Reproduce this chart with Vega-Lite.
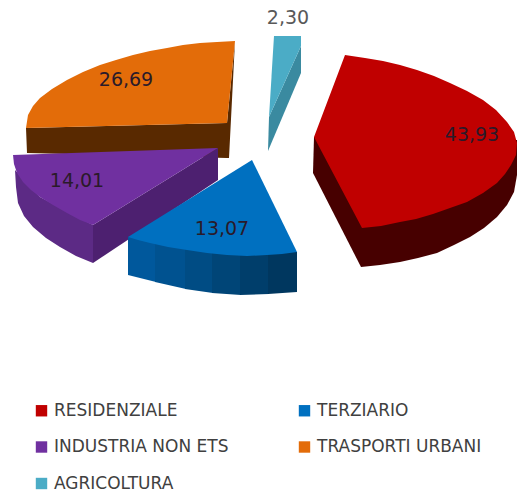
{"$schema":"https://vega.github.io/schema/vega-lite/v6.json","width":517,"height":494,"padding":0,"autosize":"none","background":"white","config":{"view":{"stroke":null}},
"layer":[
{"data":{"values":[
{"p":"T1","i":1,"x":26,"y":128},{"p":"T1","i":2,"x":27,"y":153},{"p":"T1","i":3,"x":227,"y":158},{"p":"T1","i":4,"x":229,"y":158},{"p":"T1","i":5,"x":235,"y":41},{"p":"T1","i":6,"x":227,"y":123},
{"p":"TRASPORTI URBANI","i":1,"x":235,"y":41},{"p":"TRASPORTI URBANI","i":2,"x":217,"y":42},{"p":"TRASPORTI URBANI","i":3,"x":200,"y":43},{"p":"TRASPORTI URBANI","i":4,"x":183,"y":45},{"p":"TRASPORTI URBANI","i":5,"x":167,"y":48},{"p":"TRASPORTI URBANI","i":6,"x":150,"y":51},{"p":"TRASPORTI URBANI","i":7,"x":133,"y":55},{"p":"TRASPORTI URBANI","i":8,"x":116,"y":60},{"p":"TRASPORTI URBANI","i":9,"x":100,"y":65},{"p":"TRASPORTI URBANI","i":10,"x":83,"y":72},{"p":"TRASPORTI URBANI","i":11,"x":67,"y":80},{"p":"TRASPORTI URBANI","i":12,"x":52,"y":89},{"p":"TRASPORTI URBANI","i":13,"x":40,"y":98},{"p":"TRASPORTI URBANI","i":14,"x":33,"y":106},{"p":"TRASPORTI URBANI","i":15,"x":28,"y":115},{"p":"TRASPORTI URBANI","i":16,"x":26,"y":128},{"p":"TRASPORTI URBANI","i":17,"x":227,"y":123},
{"p":"I1","i":1,"x":15,"y":170},{"p":"I1","i":2,"x":16,"y":187},{"p":"I1","i":3,"x":18,"y":203},{"p":"I1","i":4,"x":24,"y":216},{"p":"I1","i":5,"x":33,"y":227},{"p":"I1","i":6,"x":46,"y":238},{"p":"I1","i":7,"x":60,"y":247},{"p":"I1","i":8,"x":76,"y":256},{"p":"I1","i":9,"x":93,"y":263},{"p":"I1","i":10,"x":93,"y":225},{"p":"I1","i":11,"x":40,"y":197},
{"p":"I2","i":1,"x":93,"y":225},{"p":"I2","i":2,"x":218,"y":148},{"p":"I2","i":3,"x":218,"y":180},{"p":"I2","i":4,"x":93,"y":263},
{"p":"INDUSTRIA NON ETS","i":1,"x":13,"y":155},{"p":"INDUSTRIA NON ETS","i":2,"x":218,"y":148},{"p":"INDUSTRIA NON ETS","i":3,"x":93,"y":225},{"p":"INDUSTRIA NON ETS","i":4,"x":80,"y":220},{"p":"INDUSTRIA NON ETS","i":5,"x":67,"y":213},{"p":"INDUSTRIA NON ETS","i":6,"x":53,"y":205},{"p":"INDUSTRIA NON ETS","i":7,"x":40,"y":197},{"p":"INDUSTRIA NON ETS","i":8,"x":31,"y":190},{"p":"INDUSTRIA NON ETS","i":9,"x":23,"y":182},{"p":"INDUSTRIA NON ETS","i":10,"x":17,"y":173},{"p":"INDUSTRIA NON ETS","i":11,"x":14,"y":164},
{"p":"B1","i":1,"x":128,"y":237},{"p":"B1","i":2,"x":128,"y":275},{"p":"B1","i":3,"x":156,"y":282},{"p":"B1","i":4,"x":156,"y":240},
{"p":"B2","i":1,"x":155,"y":240},{"p":"B2","i":2,"x":155,"y":282},{"p":"B2","i":3,"x":186,"y":289},{"p":"B2","i":4,"x":186,"y":245},
{"p":"B3","i":1,"x":185,"y":245},{"p":"B3","i":2,"x":185,"y":289},{"p":"B3","i":3,"x":213,"y":293},{"p":"B3","i":4,"x":213,"y":250},
{"p":"B4","i":1,"x":212,"y":250},{"p":"B4","i":2,"x":212,"y":293},{"p":"B4","i":3,"x":241,"y":295},{"p":"B4","i":4,"x":241,"y":250},
{"p":"B5","i":1,"x":240,"y":250},{"p":"B5","i":2,"x":240,"y":295},{"p":"B5","i":3,"x":269,"y":294},{"p":"B5","i":4,"x":269,"y":250},
{"p":"B6","i":1,"x":268,"y":250},{"p":"B6","i":2,"x":268,"y":294},{"p":"B6","i":3,"x":297,"y":292},{"p":"B6","i":4,"x":297,"y":252},
{"p":"TERZIARIO","i":1,"x":252,"y":160},{"p":"TERZIARIO","i":2,"x":297,"y":252},{"p":"TERZIARIO","i":3,"x":282,"y":254},{"p":"TERZIARIO","i":4,"x":267,"y":255},{"p":"TERZIARIO","i":5,"x":247,"y":256},{"p":"TERZIARIO","i":6,"x":227,"y":255},{"p":"TERZIARIO","i":7,"x":207,"y":253},{"p":"TERZIARIO","i":8,"x":187,"y":250},{"p":"TERZIARIO","i":9,"x":168,"y":247},{"p":"TERZIARIO","i":10,"x":150,"y":243},{"p":"TERZIARIO","i":11,"x":138,"y":240},{"p":"TERZIARIO","i":12,"x":128,"y":237},
{"p":"R1","i":1,"x":314,"y":137},{"p":"R1","i":2,"x":313,"y":173},{"p":"R1","i":3,"x":361,"y":267},{"p":"R1","i":4,"x":380,"y":265},{"p":"R1","i":5,"x":400,"y":262},{"p":"R1","i":6,"x":418,"y":258},{"p":"R1","i":7,"x":437,"y":253},{"p":"R1","i":8,"x":454,"y":245},{"p":"R1","i":9,"x":470,"y":237},{"p":"R1","i":10,"x":484,"y":228},{"p":"R1","i":11,"x":497,"y":217},{"p":"R1","i":12,"x":507,"y":205},{"p":"R1","i":13,"x":514,"y":192},{"p":"R1","i":14,"x":517,"y":175},{"p":"R1","i":15,"x":517,"y":140},
{"p":"RESIDENZIALE","i":1,"x":345,"y":55},{"p":"RESIDENZIALE","i":2,"x":365,"y":58},{"p":"RESIDENZIALE","i":3,"x":383,"y":61},{"p":"RESIDENZIALE","i":4,"x":400,"y":65},{"p":"RESIDENZIALE","i":5,"x":417,"y":70},{"p":"RESIDENZIALE","i":6,"x":434,"y":76},{"p":"RESIDENZIALE","i":7,"x":450,"y":83},{"p":"RESIDENZIALE","i":8,"x":467,"y":91},{"p":"RESIDENZIALE","i":9,"x":483,"y":100},{"p":"RESIDENZIALE","i":10,"x":496,"y":110},{"p":"RESIDENZIALE","i":11,"x":507,"y":122},{"p":"RESIDENZIALE","i":12,"x":514,"y":132},{"p":"RESIDENZIALE","i":13,"x":517,"y":143},{"p":"RESIDENZIALE","i":14,"x":516,"y":155},{"p":"RESIDENZIALE","i":15,"x":511,"y":165},{"p":"RESIDENZIALE","i":16,"x":505,"y":174},{"p":"RESIDENZIALE","i":17,"x":497,"y":183},{"p":"RESIDENZIALE","i":18,"x":483,"y":193},{"p":"RESIDENZIALE","i":19,"x":467,"y":202},{"p":"RESIDENZIALE","i":20,"x":450,"y":208},{"p":"RESIDENZIALE","i":21,"x":433,"y":214},{"p":"RESIDENZIALE","i":22,"x":416,"y":219},{"p":"RESIDENZIALE","i":23,"x":400,"y":222},{"p":"RESIDENZIALE","i":24,"x":381,"y":226},{"p":"RESIDENZIALE","i":25,"x":362,"y":228},{"p":"RESIDENZIALE","i":26,"x":314,"y":137},
{"p":"A1","i":1,"x":301,"y":46},{"p":"A1","i":2,"x":301,"y":73},{"p":"A1","i":3,"x":268,"y":151},{"p":"A1","i":4,"x":269,"y":117},
{"p":"AGRICOLTURA","i":1,"x":274,"y":36},{"p":"AGRICOLTURA","i":2,"x":301,"y":36},{"p":"AGRICOLTURA","i":3,"x":301,"y":46},{"p":"AGRICOLTURA","i":4,"x":269,"y":117}
]},
"mark":{"type":"line","filled":true,"strokeWidth":0,"interpolate":"linear"},
"encoding":{
"x":{"field":"x","type":"quantitative","axis":null,"scale":{"domain":[0,517],"nice":false,"zero":false}},
"y":{"field":"y","type":"quantitative","axis":null,"scale":{"domain":[494,0],"nice":false,"zero":false}},
"order":{"field":"i"},
"color":{"field":"p","type":"nominal","sort":null,
"scale":{"domain":["RESIDENZIALE","INDUSTRIA NON ETS","AGRICOLTURA","TERZIARIO","TRASPORTI URBANI","R1","B1","B2","B3","B4","B5","B6","I1","I2","T1","A1"],
"range":["#c00000","#7030a0","#4bacc6","#0070c0","#e36c09","#470000","#00589c","#005290","#004c84","#004577","#003e6b","#00375f","#5c2a85","#4d2070","#592900","#3a8aa0"]},
"legend":{"values":["RESIDENZIALE","INDUSTRIA NON ETS","AGRICOLTURA","TERZIARIO","TRASPORTI URBANI"],"title":null,"orient":"none","legendX":33,"legendY":402,"columns":2,"columnPadding":67,"rowPadding":18.5,"symbolType":"square","symbolSize":130,"symbolStrokeWidth":0,"labelFont":"DejaVu Sans","labelFontSize":17,"labelColor":"#404040","labelOffset":4,"labelLimit":300}}
}},
{"data":{"values":[
{"label":"43,93","x":472,"y":135,"c":"d"},{"label":"26,69","x":126,"y":80,"c":"d"},{"label":"14,01","x":77,"y":181,"c":"d"},{"label":"13,07","x":222,"y":229,"c":"d"},{"label":"2,30","x":288,"y":18,"c":"g"}
]},
"mark":{"type":"text","font":"DejaVu Sans","fontSize":19,"align":"center","baseline":"middle"},
"encoding":{
"x":{"field":"x","type":"quantitative"},
"y":{"field":"y","type":"quantitative"},
"text":{"field":"label"},
"color":{"condition":{"test":"datum.c=='g'","value":"#595959"},"value":"#2a1a2a"}}}
]}
